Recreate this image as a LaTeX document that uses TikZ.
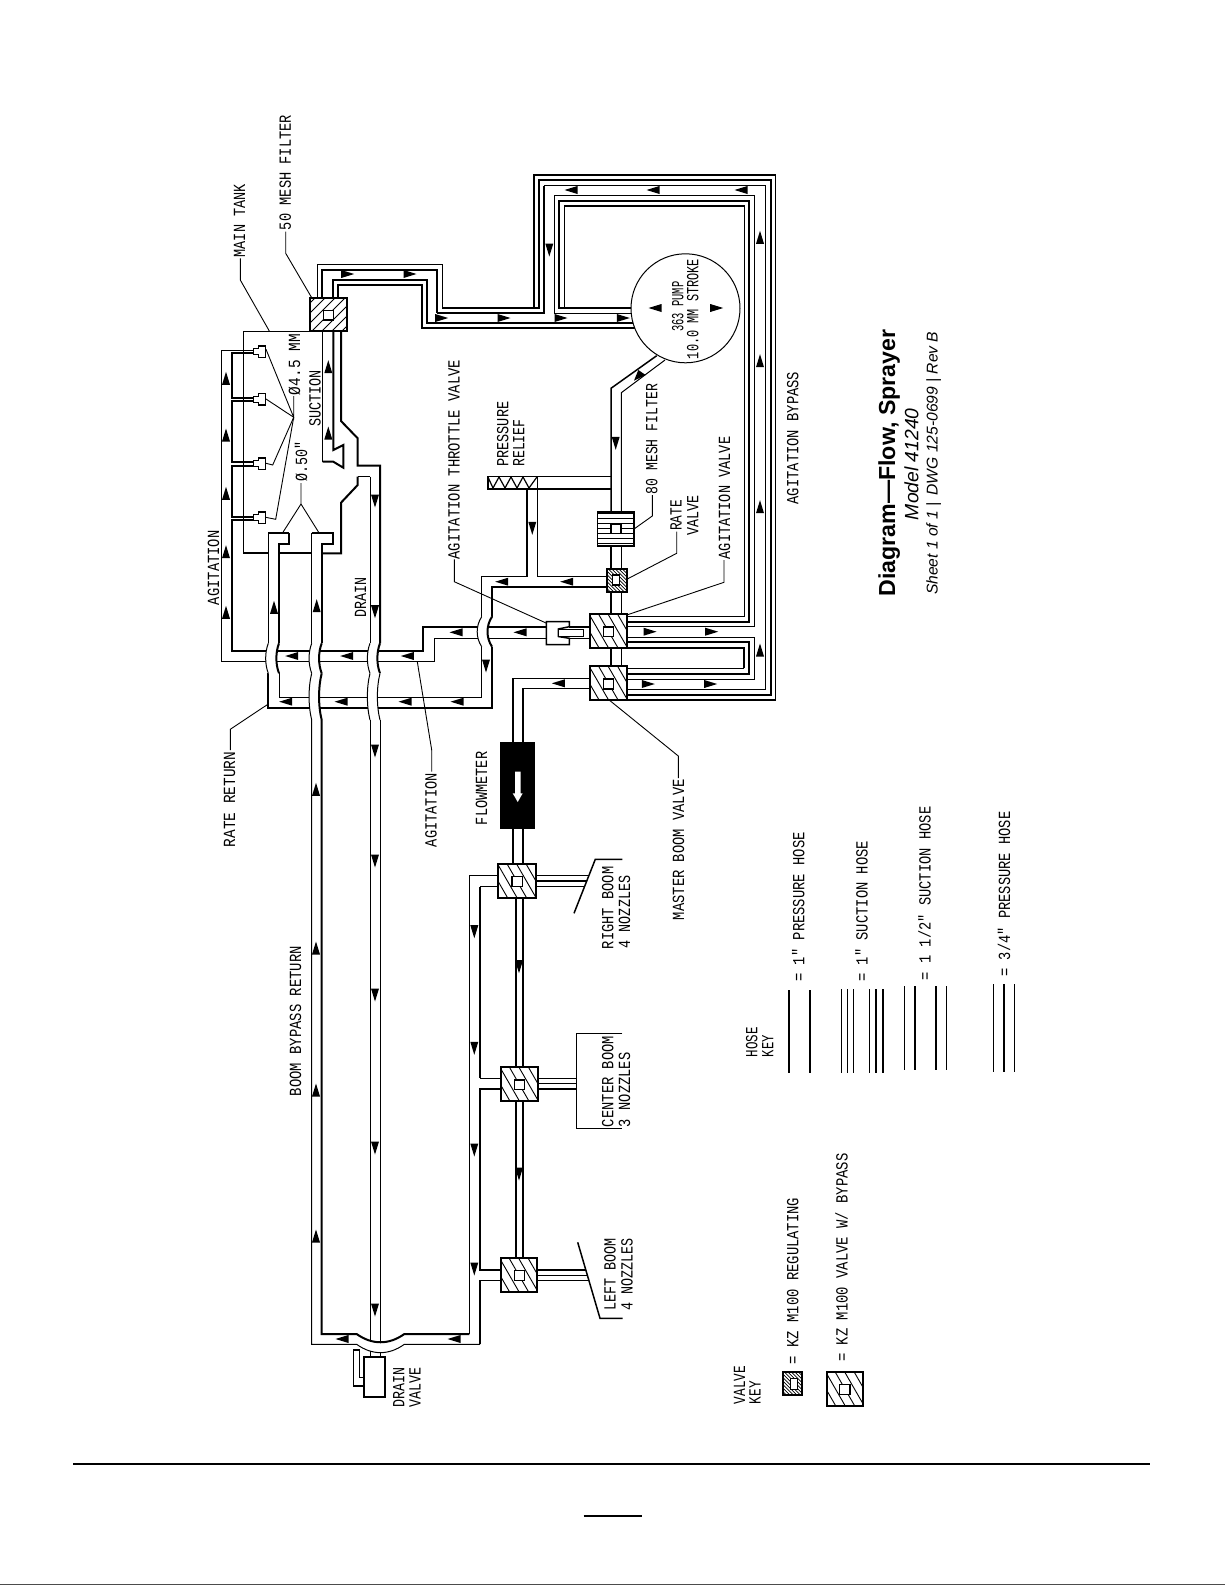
\documentclass[tikz,border=0pt]{standalone}
\usepackage{fontspec}
\usepackage{graphicx}
\newfontfamily\cadfont{Liberation Mono}
\newfontfamily\ttlfont{Liberation Sans}
\newcommand\cadtext{\cadfont\fontsize{17}{17}\selectfont}
\tikzset{
  pipeT/.style={line width=1pt,miter limit=10},
  pipeM/.style={line width=1.5pt},
  pipeB/.style={line width=2pt},
  leadln/.style={line width=.9pt},
  lbl/.style={rotate=90,anchor=base,inner sep=0pt,outer sep=0pt,font=\cadtext,text=black},
  ttl/.style={rotate=90,anchor=base,inner sep=0pt,outer sep=0pt,text=black},
  rectbase/.style={inner sep=0pt,outer sep=0pt,draw=black},
  hatchB/.style={rectbase,line width=2pt,fill=white,path picture={
     \foreach \d in {-76,-66.5,...,76} \draw[line width=.9pt] ([xshift=\d pt]path picture bounding box.center) ++(-15pt,26pt) -- ++(30pt,-52pt);}},
  hatchF/.style={rectbase,line width=2pt,fill=white,path picture={
     \foreach \d in {-70,-60,...,70} \draw[line width=.9pt] ([xshift=\d pt]path picture bounding box.center) ++(24pt,24pt) -- ++(-48pt,-48pt);}},
  hatchD/.style={rectbase,line width=2pt,fill=white,path picture={
     \foreach \d in {-42,-38.5,...,42} \draw[line width=.7pt] ([xshift=\d pt]path picture bounding box.center) ++(-16pt,16pt) -- ++(32pt,-32pt);}},
  hatchH/.style={rectbase,line width=1.6pt,fill=white,path picture={
     \foreach \d in {-15,-10,...,15} \draw[line width=.7pt] ([yshift=\d pt]path picture bounding box.center) ++(-30pt,0pt) -- ++(60pt,0pt);}},
  innerbox/.style={rectbase,line width=1.5pt,fill=white},
  blackbox/.style={inner sep=0pt,outer sep=0pt,fill=black},
  drainbox/.style={rectbase,line width=2pt,fill=white},
}
% name, xc, ybottom, ytop, text
\newcommand\lab[5]{\node[lbl] (#1) at ({#2+5},{(#3+#4)/2}) {\resizebox{\dimexpr #3pt-#4pt\relax}{\height}{#5}};}
% style, name, x1,y1,x2,y2
\newcommand\rectnode[6]{\node[#1,minimum width={(#5-#3)*1pt},minimum height={(#6-#4)*1pt}] (#2) at ({(#3+#5)/2},{(#4+#6)/2}) {};}
\newcommand\au[2]{\fill (#1,#2-6.5) -- (#1-4,#2+6.5) -- (#1+4,#2+6.5) -- cycle;}
\newcommand\ad[2]{\fill (#1,#2+6.5) -- (#1-4,#2-6.5) -- (#1+4,#2-6.5) -- cycle;}
\newcommand\al[2]{\fill (#1-6.5,#2) -- (#1+6.5,#2-4) -- (#1+6.5,#2+4) -- cycle;}
\newcommand\ar[2]{\fill (#1+6.5,#2) -- (#1-6.5,#2-4) -- (#1-6.5,#2+4) -- cycle;}
% xL,xR,y1,y2,bulge
\newcommand\bump[7]{%
 \fill[white] (#1,#3) .. controls ({#1-#5},{#3+(#4-#3)*.3}) and ({#1-#5},{#3+(#4-#3)*.7}) .. (#1,#4)
   -- (#2,#4) .. controls ({#2-#5},{#3+(#4-#3)*.7}) and ({#2-#5},{#3+(#4-#3)*.3}) .. (#2,#3) -- cycle;
 \draw[#6] (#1,#3) .. controls ({#1-#5},{#3+(#4-#3)*.3}) and ({#1-#5},{#3+(#4-#3)*.7}) .. (#1,#4);
 \draw[#7] (#2,#3) .. controls ({#2-#5},{#3+(#4-#3)*.3}) and ({#2-#5},{#3+(#4-#3)*.7}) .. (#2,#4);}
\newcommand\nozzle[2]{\draw[pipeM,fill=white] (253.3,#2-3) -- (258.3,#2-3) -- (258.3,#2-5.7) -- (265.7,#2-5.7) -- (265.7,#2+5.7) -- (258.3,#2+5.7) -- (258.3,#2+3) -- (253.3,#2+3) -- cycle;\coordinate (#1) at (265.7,#2);}
\begin{document}
\begin{tikzpicture}[x=1pt,y=-1pt,line cap=butt,line join=miter]
\useasboundingbox (0,0) rectangle (1225,1585);
\fill[white] (0,0) rectangle (1225,1585);

% ---- suction side from 50 mesh filter
\draw[pipeT] (317.3,298)--(317.3,264.3)--(442.3,264.3)--(442.3,307.7);
\draw[pipeB] (322.3,298)--(322.3,269.7)--(437.3,269.7)--(437.3,312.7);
\draw[pipeB] (332.7,298)--(332.7,280)--(427,280)--(427,323.3)--(640,323.3);
\draw[pipeB] (337.7,298)--(337.7,285)--(421.7,285)--(421.7,328.3)--(640,328.3);
\draw[pipeB] (442.3,307.7)--(539,307.7)--(539,180)--(770.7,180)--(770.7,694.7)--(627,694.7);
\draw[pipeB] (437.3,312.7)--(544.3,312.7)--(544.3,185.7);
\draw[pipeT] (544.3,185.7)--(765.3,185.7)--(765.3,689.3)--(627,689.3);
\draw[pipeM] (534,307.7)--(534,175)--(775.7,175)--(775.7,700)--(627,700);
\draw[pipeM] (640,313.3)--(554.7,313.3)--(554.7,195.7)--(754.3,195.7)--(754.3,626.7)--(627,626.7);
\draw[pipeB] (640,307.7)--(559.3,307.7)--(559.3,200.7)--(749.3,200.7)--(749.3,621.7)--(627,621.7);
\draw[pipeM] (564.3,307.7)--(564.3,206)--(744.3,206)--(744.3,616.7)--(627,616.7);
\draw[pipeT] (627,637.3)--(754.3,637.3);
\draw[pipeM] (754.3,637.3)--(754.3,679.3)--(627,679.3);
\draw[pipeB] (627,642.3)--(749.3,642.3)--(749.3,674)--(627,674);
\draw[pipeB] (627,647.7)--(744.3,647.7)--(744.3,668.3);
\draw[pipeT] (744.3,668.3)--(627,668.3);

% ---- tank
\draw[pipeT] (243.3,331)--(310,331);
\draw[pipeM] (243.3,331)--(243.3,553.3);
\draw[pipeB] (243.3,553.3)--(268.3,553.3);
\draw[pipeB] (279,553.3)--(311.7,553.3);
\draw[pipeB] (321.7,553.3)--(341,553.3)--(341,502.7)--(357.7,485)--(357.7,476.7);
\draw[pipeM] (357.7,476.7)--(370,476.7);
\draw[pipeB] (341,331)--(341,421)--(357.7,438.3)--(357.7,465.7)--(380,465.7)--(380,643.3);
\draw[pipeM] (322.7,331)--(322.7,461.7);
\draw[pipeB] (322.7,461.7)--(333.3,461.7)--(343.3,467.7)--(343.3,445)--(333.3,450)--(333.3,331);

% ---- agitation hose and nozzles
\draw[pipeT] (253.3,350)--(221.7,350)--(221.7,661.7)--(434.3,661.7)--(434.3,638.3)--(546.7,638.3);
\draw[pipeB] (253.3,353.3)--(231.7,353.3)--(231.7,397.7)--(253.3,397.7);
\draw[pipeB] (253.3,401)--(231.7,401)--(231.7,461.7)--(253.3,461.7);
\draw[pipeB] (253.3,465.7)--(231.7,465.7)--(231.7,516.7)--(253.3,516.7);
\draw[pipeB] (253.3,520)--(231.7,520)--(231.7,651)--(423.3,651)--(423.3,626.7)--(546.7,626.7);
\nozzle{nz1}{351.7}
\nozzle{nz2}{399.3}
\nozzle{nz3}{463.7}
\nozzle{nz4}{517.7}

% ---- rate return hose
\draw[pipeB] (268.3,673.3)--(268.3,707.7)--(492,707.7)--(492,646.7);
\draw[pipeB] (492,616.7)--(492,587.3)--(606.7,587.3);
\draw[pipeT] (279,673.3)--(279,697.7)--(481.7,697.7)--(481.7,646.7);
\draw[pipeT] (481.7,616.7)--(481.7,576.7)--(527.3,576.7);
\draw[pipeT] (537.3,476.7)--(537.3,576.7)--(606.7,576.7);
\draw[pipeB] (527.3,576.7)--(527.3,489);

% ---- vertical hoses with crossings
\draw[pipeB] (289.3,533.3)--(268.3,533.3);
\draw[pipeT] (268.3,533.3)--(268.3,643.3);
\draw[pipeB] (289.3,533.3)--(289.3,544.3)--(279,544.3)--(279,643.3);
\bump{268.3}{279}{643.3}{673.3}{3.5}{pipeT}{pipeB}
\draw[pipeB] (311.7,533.3)--(332.7,533.3)--(332.7,544.3)--(321.7,544.3)--(321.7,643.3);
\draw[pipeT] (311.7,533.3)--(311.7,643.3);
\bump{311.7}{321.7}{643.3}{673.3}{3.5}{pipeT}{pipeB}
\bump{311.7}{321.7}{673.3}{720}{3.5}{pipeT}{pipeB}
\draw[pipeT] (370,476.7)--(370,643.3);
\bump{370}{380}{643.3}{673.3}{3.5}{pipeT}{pipeB}
\bump{370}{380}{673.3}{720}{3.5}{pipeT}{pipeT}
\bump{481.7}{492}{616.7}{646.7}{6}{pipeT}{pipeB}

% ---- boom bypass + drain down to the bottom
\draw[pipeB] (321.7,720)--(321.7,1334)--(356.7,1334) .. controls (372,1345) and (389,1345) .. (404.3,1334)--(469.3,1334);
\draw[pipeT] (311.7,720)--(311.7,1344.3)--(356.7,1344.3) .. controls (372,1355.4) and (389,1355.4) .. (404.3,1344.3)--(480,1344.3);
\draw[pipeT] (370,720)--(370,1341);
\draw[pipeT] (380,720)--(380,1342);
\draw[pipeT] (370,1351)--(370,1358);
\draw[pipeT] (380,1352)--(380,1358);
\draw[pipeT] (469.3,875.7)--(469.3,1334);
\draw[pipeT] (498.3,875.7)--(469.3,875.7);
\draw[pipeT] (498.3,886.7)--(480,886.7);
\draw[pipeB] (480,886.7)--(480,1078.3);
\draw[pipeT] (480,1078.3)--(500.7,1078.3);
\draw[pipeB] (500.7,1089.3)--(480,1089.3)--(480,1270)--(500.7,1270);
\draw[pipeT] (500.7,1280)--(480,1280);
\draw[pipeB] (480,1280)--(480,1344.3);

% ---- pump discharge, main pressure line
\draw[pipeM] (656.7,355.7)--(611,388.3)--(611,511.7);
\draw[pipeT] (665,360)--(621.3,392.7)--(621.3,511.7);
\draw[pipeM] (611,545)--(611,570);
\draw[pipeT] (621.3,545)--(621.3,570);
\draw[pipeM] (611,592)--(611,667);
\draw[pipeT] (621.3,592)--(621.3,667);
\draw[pipeB] (487.7,476)--(487.7,489)--(611,489);
\draw[pipeT] (487.7,476)--(611,476);
\draw[line width=1.2pt] (487.7,476.5)--(493,488)--(499,477)--(505,488)--(511,477)--(517,488)--(523,477)--(529,488)--(537.3,476.5);

% ---- master valve to flowmeter and boom
\draw[pipeT] (590,678.3)--(512.7,678.3);
\draw[pipeB] (512.7,678.3)--(512.7,742);
\draw[pipeT] (590,688.3)--(522.7,688.3);
\draw[pipeB] (522.7,688.3)--(522.7,742);
\draw[pipeB] (512.7,829)--(512.7,865);
\draw[pipeB] (522.7,829)--(522.7,865);
\draw[pipeB] (516,898)--(516,1259);
\draw[pipeB] (522.7,898)--(522.7,1259);

% ---- boom outlets
\draw[pipeT] (535.7,875.7)--(589,875.7);
\draw[pipeB] (535.7,880.7)--(587,880.7);
\draw[pipeT] (535.7,886)--(585,886);
\draw[pipeM] (622.3,859.3)--(595.3,859.3)--(574,913.3);
\draw[pipeT] (537.7,1078.3)--(576.7,1078.3);
\draw[pipeT] (537.7,1083.3)--(576.7,1083.3);
\draw[pipeB] (537.7,1089.3)--(576.7,1089.3);
\draw[pipeM] (622.3,1033.3)--(576.7,1033.3)--(576.7,1128.5)--(622.3,1128.5);
\draw[pipeB] (537.3,1270)--(585.7,1270);
\draw[pipeT] (537.3,1275)--(587.3,1275);
\draw[pipeT] (537.3,1280)--(588.7,1280);
\draw[pipeM] (577.7,1242.3)--(600,1318.3)--(622.7,1318.3);

% ---- valves, filters
\rectnode{hatchF}{fiftymesh}{310}{298}{347}{331}
\rectnode{innerbox}{fiftyin}{323.7}{310.7}{333.3}{320}
\rectnode{hatchH}{eightymesh}{597.3}{511.7}{634}{545.7}
\rectnode{innerbox}{eightyin}{611}{524.3}{621}{533.3}
\rectnode{hatchD}{ratevalve}{606.7}{569.3}{626.7}{592.3}
\rectnode{innerbox}{ratein}{612.3}{575}{619.3}{585}
\rectnode{hatchB}{agvalve}{590}{614.3}{626.7}{648}
\rectnode{innerbox}{agin}{603.3}{627}{613.7}{636.7}
\rectnode{hatchB}{mastervalve}{590}{666.3}{626.7}{700}
\rectnode{innerbox}{masterin}{603.3}{679}{613.7}{689}
\rectnode{hatchB}{rightvalve}{498.3}{864.3}{535.7}{898}
\rectnode{innerbox}{rightin}{512}{876.7}{522.7}{886.7}
\rectnode{hatchB}{centervalve}{500.7}{1067.3}{537.7}{1101}
\rectnode{innerbox}{centerin}{514.3}{1080}{524.7}{1089.7}
\rectnode{hatchB}{leftvalve}{500.7}{1258.3}{537.3}{1292.3}
\rectnode{innerbox}{leftin}{514.3}{1270.7}{524.3}{1280.3}

% ---- throttle valve
\draw[pipeB] (569.3,626.7)--(590,626.7);
\draw[pipeT] (569.3,638.3)--(590,638.3);
\draw[pipeM,fill=white] (569.3,626.7)--(569.3,621.7)--(546.3,621.7)--(546.3,644.7)--(569.3,644.7)--(569.3,638.3)--(558.3,636.5)--(558.3,629)--cycle;
\draw[pipeM] (569.3,626.7)--(569.3,621.7);
\rectnode{rectbase,line width=1pt,fill=white}{throttlein}{558.3}{629}{583.3}{636.5}

% ---- pump
\node[circle,draw=black,fill=white,line width=1pt,minimum size=109pt,inner sep=0pt,outer sep=0pt] (pump) at (685.5,308.3) {};

% ---- flowmeter
\rectnode{blackbox}{flowmeter}{500}{742}{535}{829}
\fill[white] (515,771.7)--(520.7,771.7)--(520.7,793.3)--(522.7,793.3)--(517.7,802)--(512.7,793.3)--(515,793.3)--cycle;

% ---- drain valve
\rectnode{drainbox}{drainvalve}{364}{1357.3}{385.3}{1396.7}
\draw[pipeM] (drainvalve.west |- 0,1386)--(353.3,1386)--(353.3,1350)--(359.3,1350)--(359.3,1377.3)--(drainvalve.west |- 0,1377.3);

% ---- flow arrows
\au{328.3}{366.7}\au{328.3}{433}
\ar{347.7}{274}\ar{410}{274}
\ar{441.7}{318}\ar{504}{318}\ar{561}{318}\ar{623.3}{318}
\ad{549.3}{250}
\al{571}{190}\al{653}{190}\al{741}{190}
\au{760}{237.3}\au{760}{360.7}\au{760}{506.7}\au{760}{650}
\al{655}{308}\ar{716.7}{308}
\fill (634,380.7)--(638.3,370)--(645.7,375)--cycle;
\ad{615.7}{443.3}
\ad{532.3}{528.3}
\al{501.7}{581.7}\al{566.7}{581.7}
\au{226}{378.3}\au{226}{435}\au{226}{493.3}\au{226}{551.7}\au{226}{612.3}
\au{274}{607.3}\au{316.7}{605.7}
\ad{375}{501}\ad{375}{611.7}\ad{375}{751}\ad{375}{861}\ad{375}{995}\ad{375}{1148}\ad{375}{1310}
\al{291.7}{656}\al{346.7}{656}\al{407.3}{656}
\al{285.7}{701.7}\al{341}{701.7}\al{405}{701.7}\al{457}{701.7}
\al{456}{632.3}\al{520}{632.3}
\ad{486}{666}
\ar{650}{631.7}\ar{711.7}{631.7}
\ar{648.3}{684}\ar{710.7}{684}
\al{558.3}{683.3}
\au{316}{789.3}\au{316}{948}\au{316}{1090}\au{316}{1236}
\ad{474.3}{931.7}\ad{474.3}{1048.3}\ad{474.3}{1150}\ad{474.3}{1269}
\ad{519}{966.7}\ad{519}{1174}
\al{342}{1339}\al{454}{1339}

% ---- leaders
\draw[leadln] (240.3,258.3)--(240.3,280)--(269.3,331);
\draw[leadln] (285.7,231.7)--(285.7,253.3)--(311.7,297.7);
\draw[leadln] (293.7,396)--(293.7,417.3)--(266,349.3);
\draw[leadln] (293.7,417.3)--(266,399);
\draw[leadln] (293.7,417.3)--(272.7,465)--(266,463.3);
\draw[leadln] (293.7,417.3)--(275.7,519.3)--(265.7,517.3);
\draw[leadln] (301,483)--(301,504)--(282.3,533.3);
\draw[leadln] (301,504)--(319.3,533.3);
\draw[leadln] (454.3,559.3)--(454.3,581.7)--(546.7,623.3);
\draw[leadln] (652.3,495)--(652.3,516)--(634,529);
\draw[leadln] (676.7,531.7)--(676.7,553.3)--(626.7,579.3);
\draw[leadln] (724,560)--(724,582.3)--(626.7,615);
\draw[leadln] (230.3,750)--(230.3,729.3)--(268.3,704);
\draw[leadln] (431.7,771.7)--(431.7,750)--(417.3,661.7);
\draw[leadln] (678.3,778)--(678.3,756)--(608.3,699.3);

% ---- labels
\lab{lmain}{240}{257.3}{184}{MAIN TANK}
\lab{lfifty}{285.8}{230}{115}{50 MESH FILTER}
\lab{ld45}{295}{395}{334.3}{Ø4.5 MM}
\lab{ld50}{302}{481.7}{441.7}{Ø.50"}
\lab{lsuction}{315.7}{426.7}{370}{SUCTION}
\lab{lthrottle}{454.5}{559.3}{360}{AGITATION THROTTLE VALVE}
\lab{lpress}{503.3}{466.7}{401.7}{PRESSURE}
\lab{lrelief}{519.3}{466.7}{419.3}{RELIEF}
\lab{leighty}{652.3}{494.3}{384}{80 MESH FILTER}
\lab{lrate}{676.7}{530.7}{500}{RATE}
\lab{lratev}{693.3}{535}{495}{VALVE}
\lab{lagv}{725}{559.3}{436.7}{AGITATION VALVE}
\lab{lbyp}{793.3}{504.3}{371.7}{AGITATION BYPASS}
\lab{lpumpa}{678.3}{331.7}{281.7}{363 PUMP}
\lab{lpumpb}{693.3}{359}{259}{10.0 MM STROKE}
\lab{lagit}{214}{605}{530.7}{AGITATION}
\lab{ldrain}{361}{617.3}{577.3}{DRAIN}
\lab{lrr}{230}{847}{751.7}{RATE RETURN}
\lab{lagit2}{431.7}{847}{773.3}{AGITATION}
\lab{lflow}{482}{825}{751.7}{FLOWMETER}
\lab{lmaster}{679}{920}{779.3}{MASTER BOOM VALVE}
\lab{lbbr}{296}{1096}{946}{BOOM BYPASS RETURN}
\lab{lrb}{608.3}{949}{866.7}{RIGHT BOOM}
\lab{lrn}{625}{948.3}{875.7}{4 NOZZLES}
\lab{lcb}{608.3}{1127}{1036}{CENTER BOOM}
\lab{lcn}{625}{1127}{1052.7}{3 NOZZLES}
\lab{llb}{610.7}{1310.7}{1238.3}{LEFT BOOM}
\lab{lln}{627.7}{1310.7}{1238.3}{4 NOZZLES}
\lab{ldv}{399.3}{1407.3}{1367.3}{DRAIN}
\lab{ldv2}{415.7}{1407.3}{1367.3}{VALVE}

% ---- hose key
\lab{lhk}{752.3}{1057.3}{1027.3}{HOSE}
\lab{lhk2}{768.3}{1057}{1035}{KEY}
\coordinate (ka) at (789,990); \coordinate (kb) at (789,1073.3);
\draw[pipeM] (ka)--(kb);
\draw[pipeM] (810,990)--(810,1073.3);
\draw[pipeT] (841.7,989.3)--(841.7,1073.3);
\draw[pipeT] (847.3,989.3)--(847.3,1073.3);
\draw[pipeT] (853.3,989.3)--(853.3,1073.3);
\draw[pipeM] (869.3,989.3)--(869.3,1073.3);
\draw[pipeB] (876,989.3)--(876,1073.3);
\draw[pipeB] (882.7,989.3)--(882.7,1073.3);
\draw[pipeM] (904.3,986)--(904.3,1070);
\draw[pipeM] (915,986)--(915,1070);
\draw[pipeM] (936,986)--(936,1070);
\draw[pipeM] (946.7,986)--(946.7,1070);
\draw[pipeM] (993.7,984)--(993.7,1072.3);
\draw[pipeM] (1004,984)--(1004,1072.3);
\draw[pipeM] (1014.7,984)--(1014.7,1072.3);
\lab{lk1}{799.3}{981.7}{832.3}{= 1" PRESSURE HOSE}
\lab{lk2}{862.7}{981.7}{841}{= 1" SUCTION HOSE}
\lab{lk3}{925.7}{980}{806.7}{= 1 1/2" SUCTION HOSE}
\lab{lk4}{1005}{976.7}{811.7}{= 3/4" PRESSURE HOSE}

% ---- valve key
\lab{lvk}{740}{1404}{1365.7}{VALVE}
\lab{lvk2}{755.7}{1404}{1381}{KEY}
\rectnode{hatchD}{keyreg}{782.7}{1372.3}{802.3}{1395}
\rectnode{innerbox}{keyregin}{790.3}{1378.7}{797.3}{1389.3}
\rectnode{hatchB}{keybyp}{826.7}{1372.3}{863.3}{1405.7}
\rectnode{innerbox}{keybypin}{839.3}{1384.3}{850}{1394.3}
\lab{lv1}{793.3}{1364}{1197.7}{= KZ M100 REGULATING}
\lab{lv2}{842.7}{1361.7}{1153.3}{= KZ M100 VALVE W/ BYPASS}

% ---- title
\node[ttl] (title) at (895,463) {\resizebox{267pt}{!}{\ttlfont\bfseries\fontsize{23}{23}\selectfont Diagram—Flow, Sprayer}};
\node[ttl] (model) at (918.3,464.2) {\resizebox{111.7pt}{!}{\ttlfont\itshape\fontsize{18}{18}\selectfont Model 41240}};
\node[ttl] (sheet) at (937.5,463.3) {\resizebox{263.3pt}{!}{\ttlfont\itshape\fontsize{14}{14}\selectfont Sheet 1 of 1 |\, DWG 125-0699 | Rev B}};

% ---- page rules
\coordinate (ra) at (73.3,1464); \coordinate (rb) at (1149.6,1464);
\draw[line width=1.6pt] (ra)--(rb);
\coordinate (pa) at (583.5,1516); \coordinate (pb) at (642.4,1516);
\draw[line width=1.4pt] (pa)--(pb);
\coordinate (ea) at (0,1584.6); \coordinate (eb) at (1225,1584.6);
\draw[line width=.8pt,black!70] (ea)--(eb);
\end{tikzpicture}
\end{document}
